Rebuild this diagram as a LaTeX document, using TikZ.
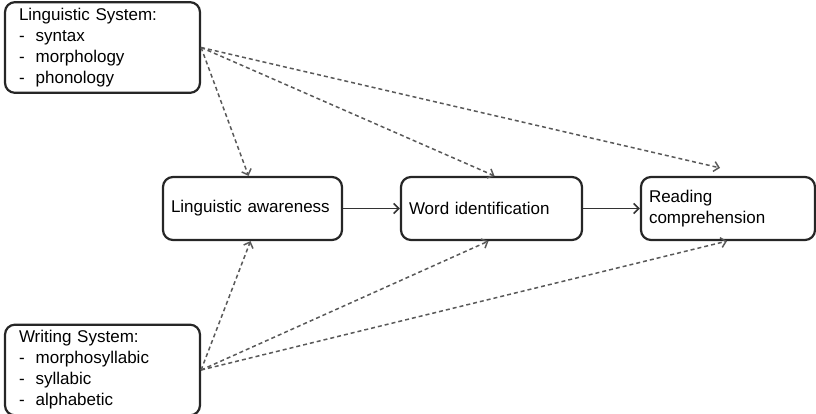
\documentclass[tikz,border=0pt]{standalone}
\usepackage{fontspec}
\setmainfont{Liberation Sans}
\usetikzlibrary{arrows.meta}
\begin{document}
\begin{tikzpicture}[x=1pt,y=-1pt,
  box/.style={draw=black!85,line width=2.2pt,rounded corners=10pt,align=left,
    inner xsep=8pt,minimum height=63pt,font=\fontsize{17}{21}\selectfont},
  sysbox/.style={box,inner xsep=14pt,text width=167pt},
  flow/.style={draw=black!80,line width=1.7pt,-{Straight Barb[length=5pt,width=10pt]}},
  link/.style={draw=black!65,line width=1.5pt,dash pattern=on 4pt off 3pt,
    -{Straight Barb[length=5pt,width=10pt]}}]
  \useasboundingbox (0,0) rectangle (816,414);
  \node[sysbox,minimum height=87pt] (lingsys) at (102.5,47.5)
    {\begin{tabular}{@{}l@{\hspace{11pt}}l@{}}
      \multicolumn{2}{@{}l@{}}{Linguistic System:}\\
      - & syntax\\ - & morphology\\ - & phonology
    \end{tabular}};
  \node[sysbox,minimum height=85pt] (writsys) at (102.5,370)
    {\begin{tabular}{@{}l@{\hspace{11pt}}l@{}}
      \multicolumn{2}{@{}l@{}}{Writing System:}\\
      - & morphosyllabic\\ - & syllabic\\ - & alphabetic
    \end{tabular}};
  \node[box,text width=163pt] (aware) at (252.5,208.5) {Linguistic awareness};
  \node[box,text width=165pt] (wordid) at (491.5,208.5) {Word identification};
  \node[box,text width=158pt] (reading) at (728,208.5) {Reading\\comprehension};
  \draw[flow] (aware) -- (wordid);
  \draw[flow] (wordid) -- (reading);
  \draw[link] (lingsys.east) -- ([xshift=-4pt]aware.north);
  \draw[link] (lingsys.east) -- ([xshift=3pt]wordid.north);
  \draw[link] (lingsys.east) -- ([xshift=-8pt,yshift=8pt]reading.north);
  \draw[link] (writsys.east) -- ([xshift=-2pt]aware.south);
  \draw[link] (writsys.east) -- ([xshift=-3pt]wordid.south);
  \draw[link] (writsys.east) -- ([xshift=-1pt]reading.south);
\end{tikzpicture}
\end{document}
